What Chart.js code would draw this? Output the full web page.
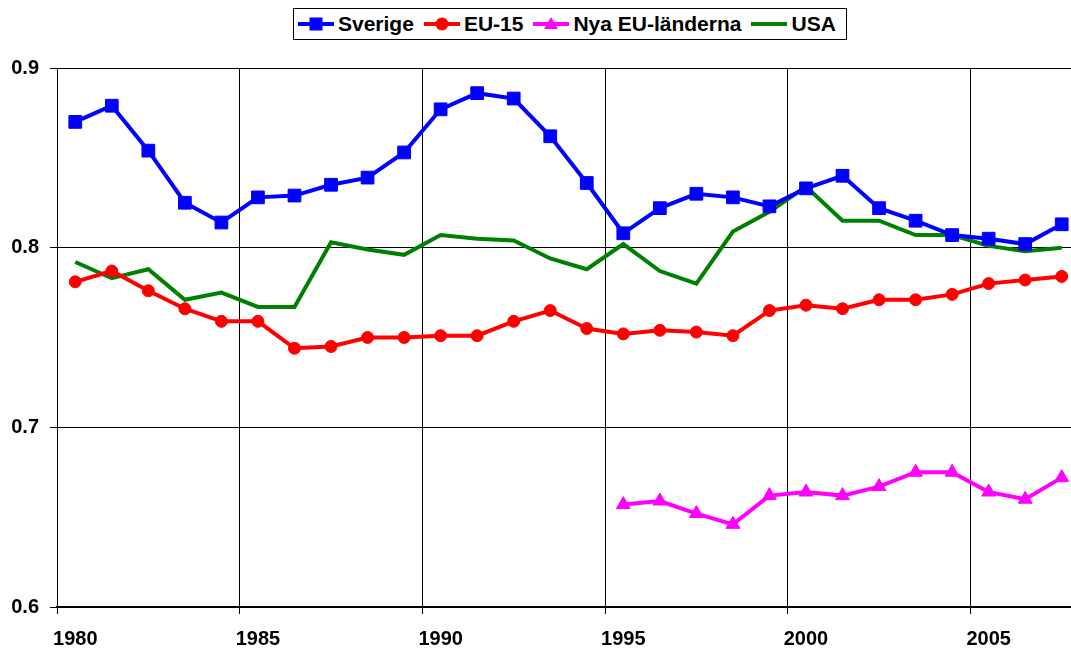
<!DOCTYPE html>
<html>
<head>
<meta charset="utf-8">
<script src="https://cdn.jsdelivr.net/npm/chart.js@4/dist/chart.umd.min.js"></script>
<style>
  html, body { margin: 0; padding: 0; background: #fff; overflow: hidden; }
  #frame { position: relative; width: 1071px; height: 650px; overflow: hidden; }
  #chartRatio { position: absolute; left: 0; top: 0; }
  #legend {
    position: absolute; left: 293px; top: 8px; width: 548px; height: 30px;
    border: 1px solid #000; background: #fff;
    display: flex; align-items: center; padding-left: 4px; box-sizing: content-box;
    font: bold 21px "Liberation Sans", Arial, sans-serif; color: #000;
  }
  #legend .item { display: flex; align-items: center; margin-right: 10px; white-space: nowrap; }
  #legend svg { margin-right: 4px; }
</style>
</head>
<body>
<div id="frame">
  <canvas id="chartRatio" width="1081" height="650"></canvas>
  <div id="legend"></div>
</div>
<script>
// år (kategorier)
const years = [1980, 1981, 1982, 1983, 1984, 1985, 1986, 1987, 1988, 1989,
               1990, 1991, 1992, 1993, 1994, 1995, 1996, 1997, 1998, 1999,
               2000, 2001, 2002, 2003, 2004, 2005, 2006, 2007];

const sverige = [0.870, 0.879, 0.854, 0.825, 0.814, 0.828, 0.829, 0.835, 0.839, 0.853,
                 0.877, 0.886, 0.883, 0.862, 0.836, 0.808, 0.822, 0.830, 0.828, 0.823,
                 0.833, 0.840, 0.822, 0.815, 0.807, 0.805, 0.802, 0.813];

const eu15 = [0.781, 0.787, 0.776, 0.766, 0.759, 0.759, 0.744, 0.745, 0.750, 0.750,
              0.751, 0.751, 0.759, 0.765, 0.755, 0.752, 0.754, 0.753, 0.751, 0.765,
              0.768, 0.766, 0.771, 0.771, 0.774, 0.780, 0.782, 0.784];

const nyaEu = [null, null, null, null, null, null, null, null, null, null,
               null, null, null, null, null, 0.657, 0.659, 0.652, 0.646, 0.662,
               0.664, 0.662, 0.667, 0.675, 0.675, 0.664, 0.660, 0.672];

const usa = [0.792, 0.783, 0.788, 0.771, 0.775, 0.767, 0.767, 0.803, 0.799, 0.796,
             0.807, 0.805, 0.804, 0.794, 0.788, 0.802, 0.787, 0.780, 0.809, 0.820,
             0.834, 0.815, 0.815, 0.807, 0.807, 0.801, 0.798, 0.800];

const yTicks = [0.6, 0.7, 0.8, 0.9];

const fontFam = '"Liberation Sans", Arial, sans-serif';

const series = [
    { label: 'Sverige', data: sverige, color: '#0000FF', style: 'rect', r: 9 },
    { label: 'EU-15', data: eu15, color: '#FF0000', style: 'circle', r: 6 },
    { label: 'Nya EU-länderna', data: nyaEu, color: '#FF00FF', style: 'triangle', r: 8 },
    { label: 'USA', data: usa, color: '#008000', style: 'circle', r: 0 }
];

// legend i HTML
const legendEl = document.getElementById('legend');
series.forEach(s => {
    let marker = '';
    if (s.style === 'rect' && s.r) marker = `<rect x="11.5" y="3.5" width="13" height="13" fill="${s.color}"/>`;
    else if (s.style === 'circle' && s.r) marker = `<circle cx="18" cy="10" r="6.5" fill="${s.color}"/>`;
    else if (s.style === 'triangle') marker = `<polygon points="18,3 25,15 11,15" fill="${s.color}"/>`;
    const item = document.createElement('div');
    item.className = 'item';
    item.innerHTML = `<svg width="36" height="20"><line x1="0" y1="10" x2="36" y2="10" stroke="${s.color}" stroke-width="4"/>${marker}</svg><span>${s.label}</span>`;
    legendEl.appendChild(item);
});

const ctx = document.getElementById('chartRatio').getContext('2d');
new Chart(ctx, {
    type: 'line',
    data: {
        labels: years,
        datasets: series.map(s => ({
            label: s.label,
            data: s.data,
            borderColor: s.color,
            backgroundColor: s.color,
            borderWidth: 4,
            pointStyle: s.style,
            pointRadius: s.r,
            pointBorderWidth: 1,
            pointHoverRadius: s.r,
            tension: 0,
            fill: false
        }))
    },
    options: {
        responsive: false,
        animation: false,
        layout: { autoPadding: false, padding: { top: 68, right: 1, left: 0, bottom: 0 } },
        plugins: {
            legend: { display: false },
            tooltip: { enabled: false }
        },
        scales: {
            x: {
                type: 'category',
                offset: true,
                grid: {
                    offset: true,
                    color: c => (c.index % 5 === 0 && c.index < years.length) ? '#000' : 'rgba(0,0,0,0)',
                    lineWidth: 1,
                    tickLength: 7
                },
                border: { color: '#000', width: 2 },
                ticks: {
                    autoSkip: false,
                    maxRotation: 0,
                    minRotation: 0,
                    padding: 13,
                    color: '#000',
                    font: { family: fontFam, size: 20, weight: 'bold' },
                    callback: function (val, i) { return years[i] % 5 === 0 ? String(years[i]) : ''; }
                },
                afterFit: axis => { axis.height = 43; axis.paddingLeft = 0; axis.paddingRight = 0; }
            },
            y: {
                min: yTicks[0],
                max: yTicks[yTicks.length - 1],
                afterBuildTicks: axis => { axis.ticks = yTicks.map(v => ({ value: v })); },
                grid: { color: '#000', lineWidth: 1, tickLength: 7 },
                border: { color: '#000', width: 1 },
                ticks: {
                    padding: 11,
                    color: '#000',
                    font: { family: fontFam, size: 20, weight: 'bold' },
                    callback: v => Number(v).toFixed(1)
                },
                afterFit: axis => { axis.width = 57; }
            }
        }
    }
});
</script>
</body>
</html>
